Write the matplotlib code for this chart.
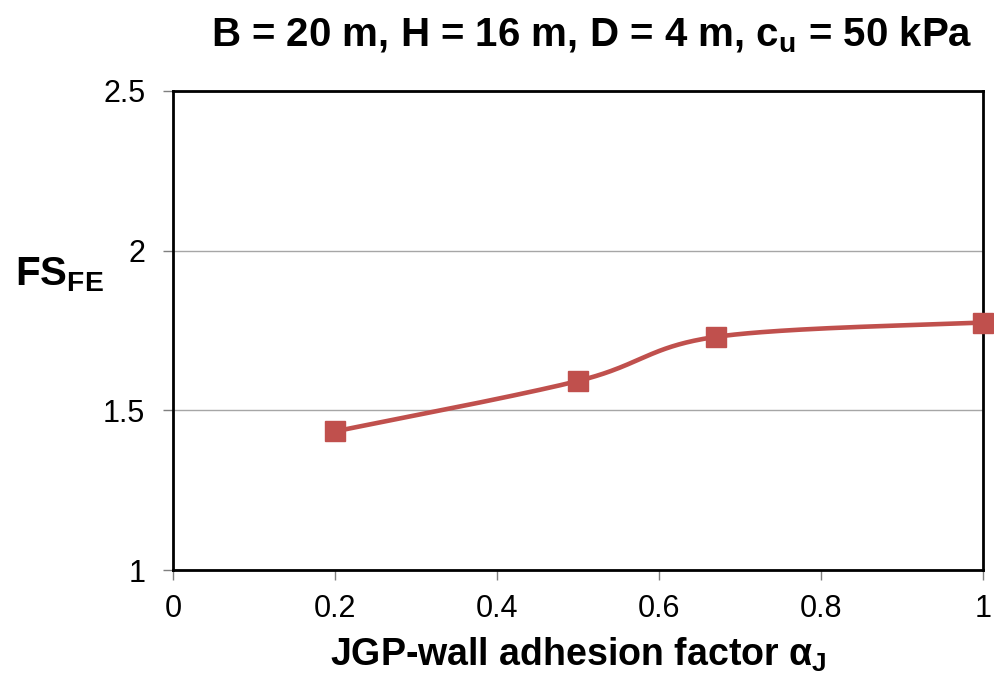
import numpy as np
import matplotlib
matplotlib.use("Agg")
import matplotlib.pyplot as plt

alpha_j = [0.2, 0.5, 0.67, 1.0]
fs_fe = [1.434, 1.592, 1.730, 1.775]
xticks = [0, 0.2, 0.4, 0.6, 0.8, 1]
xticklabels = ["0", "0.2", "0.4", "0.6", "0.8", "1"]
yticks = [1, 1.5, 2, 2.5]
yticklabels = ["1", "1.5", "2", "2.5"]

fig = plt.figure(figsize=(9.94, 6.79), dpi=100)
ax = fig.add_axes([0.174, 0.1605, 0.815, 0.7055])
ax.set_xlim(0, 1)
ax.set_ylim(1, 2.5)

# Excel-like smoothed line (Bezier through points, computed in pixel space)
fig.canvas.draw()
P = ax.transData.transform(np.column_stack([alpha_j, fs_fe]))
n = len(P)
curve = []
for i in range(n - 1):
    p0 = P[i - 1] if i > 0 else P[i]
    p1 = P[i]
    p2 = P[i + 1]
    p3 = P[i + 2] if i + 2 < n else P[i + 1]
    c1 = p1 + (p2 - p0) / 6.0
    c2 = p2 - (p3 - p1) / 6.0
    t = np.linspace(0, 1, 60)[:, None]
    seg = (1 - t) ** 3 * p1 + 3 * (1 - t) ** 2 * t * c1 + 3 * (1 - t) * t ** 2 * c2 + t ** 3 * p2
    curve.append(seg)
curve = np.vstack(curve)
curve_d = ax.transData.inverted().transform(curve)

red = "#C0504D"
ax.plot(curve_d[:, 0], curve_d[:, 1], color=red, lw=3.3, zorder=3, clip_on=False,
        solid_capstyle="round")
ax.plot(alpha_j, fs_fe, ls="none", marker="s", ms=14, color=red, mec=red, zorder=4,
        clip_on=False)

ax.set_yticks(yticks)
ax.set_yticklabels(yticklabels)
ax.set_xticks(xticks)
ax.set_xticklabels(xticklabels)
ax.grid(axis="y", color="#A6A6A6", lw=1)
ax.set_axisbelow(True)
for s in ax.spines.values():
    s.set_linewidth(2)
    s.set_color("black")
ax.tick_params(axis="both", direction="out", length=7, width=1, color="#7F7F7F",
               labelsize=22)
ax.tick_params(axis="y", pad=13)
ax.tick_params(axis="x", pad=10)
for lab in ax.get_xticklabels() + ax.get_yticklabels():
    lab.set_fontfamily("Liberation Sans")

ax.set_xlabel(r"JGP-wall adhesion factor $\mathregular{\alpha_J}$", fontsize=27,
              fontweight="bold", family="Liberation Sans", labelpad=9)
fig.text(0.015, 0.595, r"FS$\mathregular{_{FE}}$", fontsize=29, fontweight="bold",
         family="Liberation Sans", va="center", ha="left")
fig.text(0.595, 0.948, r"B = 20 m, H = 16 m, D = 4 m, c$\mathregular{_u}$ = 50 kPa",
         fontsize=29, fontweight="bold", family="Liberation Sans", ha="center", va="center")

fig.savefig("out.png", dpi=100)
